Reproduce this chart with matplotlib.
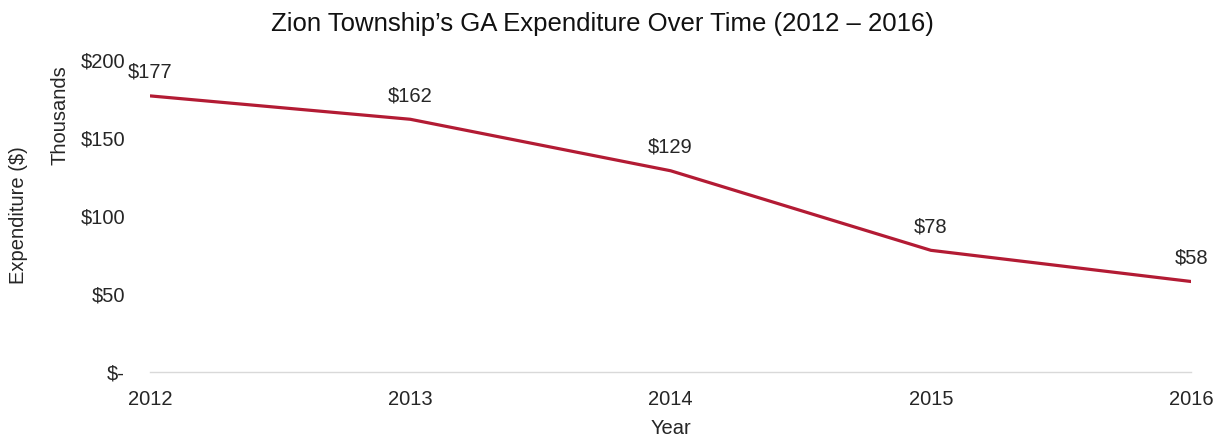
import matplotlib
matplotlib.use("Agg")
import matplotlib.pyplot as plt

plt.rcParams['font.family'] = ['Liberation Sans', 'DejaVu Sans']

years = [2012, 2013, 2014, 2015, 2016]
expenditure = [177, 162, 129, 78, 58]   # thousands of dollars
yticks = [0, 50, 100, 150, 200]
ytick_labels = ['$-', '$50', '$100', '$150', '$200']

text_color = '#262626'
line_color = '#B31B34'

fig = plt.figure(figsize=(12.25, 4.36), dpi=100)
ax = fig.add_axes([0.1224, 0.1468, 0.8500, 0.7156])

ax.plot(years, expenditure, color=line_color, linewidth=2.3, solid_capstyle='butt')

for x, y in zip(years, expenditure):
    ax.annotate(f'${y}', (x, y), xytext=(0, 17), textcoords='offset points',
                ha='center', va='center', fontsize=14.5, color=text_color)

ax.set_xlim(years[0], years[-1])
ax.set_ylim(0, 200)
ax.set_xticks(years)
ax.set_yticks(yticks)
ax.set_yticklabels(ytick_labels)
ax.tick_params(axis='both', length=0, labelsize=14.5, labelcolor=text_color)
ax.tick_params(axis='y', pad=18)
ax.tick_params(axis='x', pad=13)

for side in ['top', 'right', 'left']:
    ax.spines[side].set_visible(False)
ax.spines['bottom'].set_color('#D9D9D9')
ax.spines['bottom'].set_linewidth(1.0)

ax.set_xlabel('Year', fontsize=14.5, color=text_color, labelpad=7)

fig.text(0.492, 0.946, 'Zion Township’s GA Expenditure Over Time (2012 – 2016)',
         ha='center', va='center', fontsize=18.5, color='#111111')
fig.text(0.049, 0.736, 'Thousands', rotation=90, ha='center', va='center',
         fontsize=14.5, color=text_color)
fig.text(0.015, 0.507, 'Expenditure ($)', rotation=90, ha='center', va='center',
         fontsize=14.5, color=text_color)

fig.savefig('out.png', dpi=100)
